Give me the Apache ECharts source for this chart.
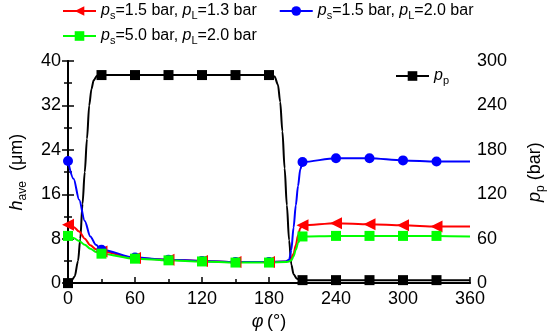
<!DOCTYPE html>
<html>
<head>
<meta charset="utf-8">
<script src="https://cdn.jsdelivr.net/npm/echarts@6/dist/echarts.min.js"></script>
<style>
html, body { margin: 0; padding: 0; background: #fff; }
#main { width: 555px; height: 336px; }
</style>
</head>
<body>
<div id="main"></div>
<script>
// φ (deg) for the film thickness curves
var phi = [0, 5, 10, 15, 20, 25, 30, 60, 90, 120, 150, 180, 195, 198, 200, 202, 204, 206, 208, 210, 240, 270, 300, 330, 360];
// h_ave (um)
var hRed   = [10.5, 10.1, 9.3, 8.0, 6.8, 6.1, 5.7, 4.5, 4.2, 4.0, 3.8, 3.8, 3.9, 4.0, 4.4, 5.3, 6.8, 8.6, 9.9, 10.4, 10.8, 10.6, 10.4, 10.2, 10.2];
var hBlue  = [22.0, 18.8, 15.0, 11.2, 8.4, 6.9, 6.0, 4.6, 4.2, 4.0, 3.8, 3.8, 3.9, 4.2, 6.0, 10.0, 14.0, 17.5, 20.5, 21.8, 22.5, 22.5, 22.1, 21.9, 21.9];
var hGreen = [8.5, 8.1, 7.6, 6.9, 6.2, 5.6, 5.3, 4.4, 4.1, 3.9, 3.7, 3.7, 3.8, 3.9, 4.1, 4.8, 6.0, 7.2, 8.0, 8.4, 8.5, 8.5, 8.5, 8.5, 8.4];

// pressure p_p (bar)
var phiP = [0, 3, 6, 9, 11, 13, 15, 17, 19, 21, 23, 26, 30, 60, 90, 120, 150, 180, 185, 188, 190, 192, 194, 196, 198, 200, 202, 205, 210, 240, 270, 300, 330, 360];
var pP   = [0, 3, 9, 30, 60, 107, 150, 195, 240, 262, 274, 280, 281, 281, 281, 281, 281, 281, 279, 268, 245, 205, 155, 105, 58, 25, 12, 6, 4, 4, 4, 4, 4, 4];

var xTicks = [0, 360, 60];
var hTicks = [0, 40, 8];
var pTicks = [0, 300, 60];

var FONT = 'Liberation Sans, Arial, sans-serif';

// markers only every 30 deg, like the original
function pts(xs, ys) {
    return xs.map(function(x, i) {
        var d = { value: [x, ys[i]] };
        if (x % 30 !== 0 || x >= 360) d.symbol = 'none';
        return d;
    });
}

var rich = {
    i: { fontFamily: FONT, fontSize: 16, fontStyle: 'italic', color: '#000', lineHeight: 20, verticalAlign: 'middle' },
    n: { fontFamily: FONT, fontSize: 16, color: '#000', lineHeight: 20, verticalAlign: 'middle' },
    s: { fontFamily: FONT, fontSize: 11, color: '#000', lineHeight: 8, verticalAlign: 'bottom' }
};
var axRich = {
    i: { fontFamily: FONT, fontSize: 18, fontStyle: 'italic', color: '#000', lineHeight: 24, verticalAlign: 'middle' },
    n: { fontFamily: FONT, fontSize: 18, color: '#000', lineHeight: 24, verticalAlign: 'middle' },
    s: { fontFamily: FONT, fontSize: 12, color: '#000', lineHeight: 10, verticalAlign: 'bottom' }
};

var labels = {
    'red':   '{i|p}{s|s}{n|=1.5 bar, }{i|p}{s|L}{n|=1.3 bar}',
    'blue':  '{i|p}{s|s}{n|=1.5 bar, }{i|p}{s|L}{n|=2.0 bar}',
    'green': '{i|p}{s|s}{n|=5.0 bar, }{i|p}{s|L}{n|=2.0 bar}',
    'pp':    '{i|p}{s|p}'
};

function fmt(name) { return labels[name]; }

function legendBase(names, left, top) {
    return {
        data: names, left: left, top: top, padding: 0,
        itemWidth: 33, itemHeight: 12, itemGap: 22,
        formatter: fmt, textStyle: { rich: rich, color: '#000' }
    };
}

function axisBase(rng) {
    return {
        type: 'value', min: rng[0], max: rng[1], interval: rng[2],
        axisLine: { show: true, lineStyle: { color: '#000', width: 2 } },
        axisTick: { show: true, inside: true, length: 6, lineStyle: { color: '#000', width: 1.5 } },
        minorTick: { show: true, splitNumber: 2, length: 4, lineStyle: { color: '#000', width: 1.5 } },
        axisLabel: { color: '#000', fontFamily: FONT, fontSize: 18, margin: 7 },
        splitLine: { show: false }
    };
}

var xMain = axisBase(xTicks);
xMain.position = 'bottom';
xMain.name = '{i|φ} {n|(°)}';
xMain.nameLocation = 'middle';
xMain.nameGap = 26;
xMain.nameTextStyle = { rich: axRich };

var xTop = {
    type: 'value', min: 0, max: 360, position: 'top',
    axisLine: { show: true, lineStyle: { color: '#000', width: 1.2 } },
    axisTick: { show: false }, axisLabel: { show: false }, splitLine: { show: false }
};

var yLeft = axisBase(hTicks);
yLeft.position = 'left';
yLeft.name = '{i|h}{s|ave}{n|  (μm)}';
yLeft.nameLocation = 'middle';
yLeft.nameRotate = 90;
yLeft.nameGap = 39;
yLeft.nameTextStyle = { rich: axRich };

var yRight = axisBase(pTicks);
yRight.position = 'right';
yRight.name = '{i|p}{s|p}{n| (bar)}';
yRight.nameLocation = 'middle';
yRight.nameRotate = 90;
yRight.nameGap = 53;
yRight.nameTextStyle = { rich: axRich };

function hSeries(name, color, symbol, size, ys, rotate) {
    return {
        name: name, type: 'line', xAxisIndex: 0, yAxisIndex: 0,
        data: pts(phi, ys), symbol: symbol, symbolSize: size, symbolRotate: rotate || 0,
        smooth: 0.3, smoothMonotone: 'x',
        lineStyle: { color: color, width: 2 }, itemStyle: { color: color },
        emphasis: { disabled: true }
    };
}

var chart = echarts.init(document.getElementById('main'));
chart.setOption({
    backgroundColor: '#fff',
    animation: false,
    grid: { left: 63, right: 70, top: 61, bottom: 49 },
    legend: [
        legendBase(['red', 'blue'], 62, 3),
        legendBase(['green'], 62, 28),
        legendBase(['pp'], 395, 68)
    ],
    xAxis: [xMain, xTop],
    yAxis: [yLeft, yRight],
    series: [
        hSeries('red', '#ff0000', 'triangle', 12, hRed, 90),
        hSeries('blue', '#0000ff', 'circle', 10, hBlue),
        hSeries('green', '#00ff00', 'rect', 10, hGreen),
        {
            name: 'pp', type: 'line', xAxisIndex: 0, yAxisIndex: 1,
            data: pts(phiP, pP), symbol: 'rect', symbolSize: 10,
            smooth: 0.3, smoothMonotone: 'x',
            lineStyle: { color: '#000', width: 2 }, itemStyle: { color: '#000' },
            z: 1, emphasis: { disabled: true }
        }
    ]
});
</script>
</body>
</html>
